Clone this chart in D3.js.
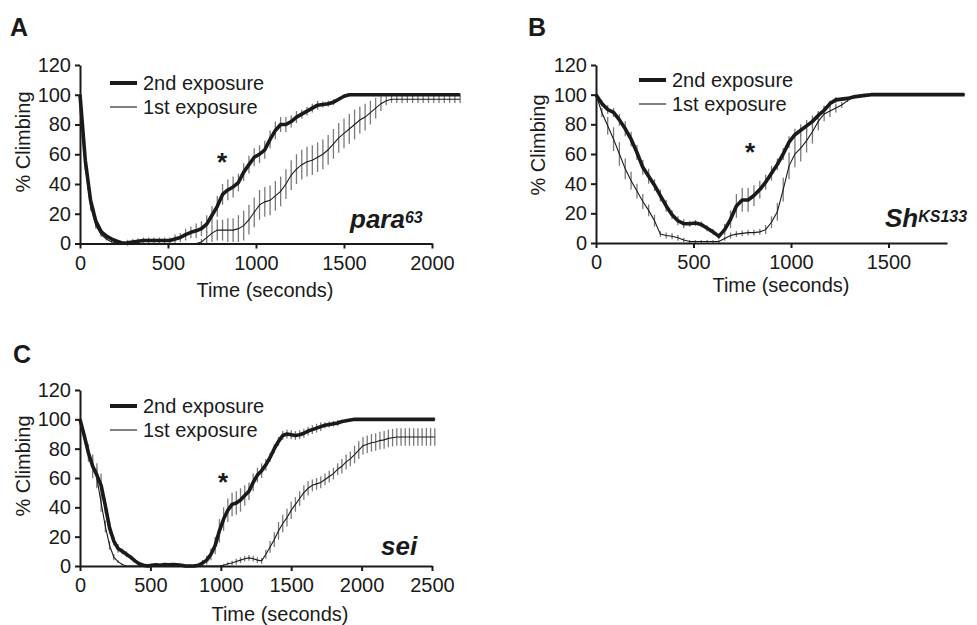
<!DOCTYPE html>
<html>

<head>
    <meta charset="utf-8">
    <style>
        body { margin: 0; background: #fff; }
        svg { display: block; font-family: "Liberation Sans", Arial, Helvetica, sans-serif; }
        .axis path, .axis line { stroke: #1a1a1a; stroke-width: 2px; }
        .axis text { font-size: 20px; fill: #1a1a1a; font-family: "Liberation Sans", Arial, sans-serif; }
        .err { stroke: #7a7a7a; stroke-width: 1.3px; }
        .first { fill: none; stroke: #1a1a1a; stroke-width: 1.1px; }
        .second { fill: none; stroke: #1a1a1a; stroke-width: 3.6px; stroke-linejoin: round; }
        .label { font-size: 20px; fill: #1a1a1a; }
    </style>
</head>

<body>
    <script src="https://d3js.org/d3.v7.min.js"></script>
    <script>
        // samples are every 30 s, starting at t = 0
        var timeStep = 30;

        var yTicks = [0, 20, 40, 60, 80, 100, 120];
        var xTicksA = [0, 500, 1000, 1500, 2000];
        var xTicksB = [0, 500, 1000, 1500];
        var xTicksC = [0, 500, 1000, 1500, 2000, 2500];

        var seriesNames = ["2nd exposure", "1st exposure"];

        // A: para63
        var paraSecond = [100, 56, 29, 15, 8, 5, 3, 1.5, 0.3,
            0.5, 1, 1.5, 2, 2, 2, 2, 2, 2,
            3, 4, 6, 7.5, 8.5, 10, 13, 19, 25, 33,
            36, 38, 41, 48, 53, 58, 60, 63, 70, 76,
            80, 80, 82, 85, 87, 89, 91, 93, 93.5, 94,
            95, 97, 99, 100,
            100, 100, 100, 100, 100, 100, 100, 100, 100, 100,
            100, 100, 100, 100, 100, 100, 100, 100, 100, 100, 100];
        var paraSecondErr = [0, 3, 3, 2, 2, 1.5, 1, 1, 1,
            2, 2, 2, 2, 2, 2, 2, 2, 2,
            3, 3, 4, 4, 5, 5, 6, 6, 7, 7,
            7, 7, 6, 6, 6, 6, 6, 6, 6, 6,
            5, 5, 4, 4, 3, 3, 3, 3, 2, 2,
            2, 1, 1, 0.5,
            0.5, 0.5, 0.5, 0.5, 0.5, 0.5, 0.5, 0.5, 0.5, 0.5,
            0.5, 0.5, 0.5, 0.5, 0.5, 0.5, 0.5, 0.5, 0.5, 0.5, 0.5];
        var paraFirst = [100, 52, 25, 12, 6, 3, 1, 0.5,
            0, 0, 0, 0, 0, 0, 0, 0, 0, 0, 0, 0, 0, 0, 0,
            1, 4, 7, 9, 9, 9, 9, 10, 12, 16,
            21, 26, 28, 29, 32, 35, 40, 46, 50, 53,
            55, 56, 58, 60, 63, 67, 71, 74, 77, 80,
            83, 85, 88, 91, 94, 96, 97,
            97, 97, 97, 97, 97, 97, 97, 97, 97, 97, 97, 97, 97];
        var paraFirstErr = [0, 3, 3, 2, 1.5, 1, 0.5, 0.5,
            0, 0, 0, 0, 0, 0, 0, 0, 0, 0, 0, 0, 0, 0, 0,
            2, 4, 6, 7, 7, 8, 8, 9, 10, 10,
            10, 10, 10, 10, 10, 10, 10, 10, 10, 10,
            10, 10, 10, 10, 10, 10, 10, 10, 10, 10,
            9, 9, 8, 7, 5, 3, 2.5,
            2.5, 2.5, 2.5, 2.5, 2.5, 2.5, 2.5, 2.5, 2.5, 2.5, 2.5, 2.5, 2.5];

        // B: ShKS133
        var shSecond = [100, 94, 90, 88, 83, 77, 70, 61, 51, 45,
            39, 32, 25, 19, 15, 13, 13, 13.5, 12.5, 10,
            7.5, 4.5, 9, 16, 25, 29, 29, 32, 36, 41,
            47, 53, 60, 68, 73, 76, 79, 82, 86, 89.5,
            94, 96.5, 97, 97.5, 98.5, 99, 99.5, 100,
            100, 100, 100, 100, 100, 100, 100, 100, 100, 100, 100, 100, 100, 100, 100, 100];
        var shSecondErr = [0, 2, 3, 3, 4, 5, 5, 5, 5, 5,
            4, 4, 4, 3, 3, 3, 2, 2, 2, 2,
            2, 2, 4, 6, 8, 8, 8, 7, 6, 5,
            5, 4, 4, 4, 4, 4, 4, 4, 3, 3,
            2, 2, 1, 1, 0.5, 0.5, 0.5, 0.3,
            0.3, 0.3, 0.3, 0.3, 0.3, 0.3, 0.3, 0.3, 0.3, 0.3, 0.3, 0.3, 0.3, 0.3, 0.3, 0.3];
        var shFirst = [100, 88, 79, 70, 60, 50, 42, 35, 28, 22,
            15, 6, 5, 4.5, 3.5, 2, 1, 1, 1, 1,
            1, 1, 3, 5, 6, 6.5, 7, 7, 7.5, 9,
            14, 21, 36, 52, 60, 64, 69, 75, 82, 87,
            89, 91, 93, 96, 98, 99, 100,
            100, 100, 100, 100, 100, 100, 100, 100, 100, 100, 100, 100, 100, 100, 100, 100, 100];
        var shFirstErr = [0, 3, 6, 8, 8, 7, 6, 5, 5, 4,
            4, 2, 2, 2, 2, 1.5, 1, 1, 1, 1,
            1, 1, 1.5, 2, 2, 2, 2, 2, 2, 3,
            4, 6, 8, 9, 9, 9, 8, 8, 6, 5,
            4, 3, 2, 1, 1, 0.5, 0.3,
            0.3, 0.3, 0.3, 0.3, 0.3, 0.3, 0.3, 0.3, 0.3, 0.3, 0.3, 0.3, 0.3, 0.3, 0.3, 0.3, 0.3];

        // C: sei
        var seiSecond = [100, 89, 77, 68, 62, 55, 41, 26, 17, 12,
            10, 8, 6, 3.5, 1.5, 0.5, 0, 0.5, 0.8, 0.5,
            1, 0.8, 1, 0.8, 0.5, 0, 0, 0, 0.5, 2,
            4, 8, 14, 24, 32, 38, 42, 43, 45, 48,
            51, 57, 62, 65, 69, 74, 80, 85, 89, 90,
            89.5, 89, 89.5, 90.5, 92, 93, 94, 95, 96, 96.5,
            97, 97.5, 98.5, 99, 99.5, 100,
            100, 100, 100, 100, 100, 100, 100, 100, 100, 100,
            100, 100, 100, 100, 100, 100, 100, 100, 100];
        var seiSecondErr = [0, 3, 6, 8, 8, 8, 5, 4, 3, 3,
            2, 2, 1.5, 1, 1, 1, 1, 1, 1, 1,
            1, 1, 1, 1, 1, 1, 1, 1, 1, 2,
            3, 4, 6, 8, 8, 8, 8, 8, 8, 7,
            6, 6, 5, 5, 4, 3, 3, 3, 3, 3,
            3, 3, 3, 3, 3, 3, 3, 3, 2, 2,
            2, 2, 1, 1, 1, 0.5,
            0.5, 0.5, 0.5, 0.5, 0.5, 0.5, 0.5, 0.5, 0.5, 0.5,
            0.5, 0.5, 0.5, 0.5, 0.5, 0.5, 0.5, 0.5, 0.5];
        var seiFirst = [100, 89, 77, 68, 60, 43, 27, 14, 6, 3,
            1, 0, 0, 0, 0, 0, 0, 0, 0, 0,
            0, 0, 0, 0, 0, 0, 0, 0, 0, 0,
            0, 0, 0, 0, 0.5, 1.5, 2, 3, 4, 5,
            5.5, 5, 4, 3.5, 8, 13, 18, 24, 29, 33,
            38, 42, 46, 50, 53, 55, 56, 57, 59, 61,
            63, 66, 68, 71, 73, 76, 79, 82, 83, 84,
            84.5, 85.5, 86, 87, 87.5, 88, 88, 88, 88, 88,
            88, 88, 88, 88, 88];
        var seiFirstErr = [0, 2, 3, 5, 7, 6, 4, 3, 2, 1,
            0.5, 0, 0, 0, 0, 0, 0, 0, 0, 0,
            0, 0, 0, 0, 0, 0, 0, 0, 0, 0,
            0, 0, 0, 0, 1, 1, 1.5, 2, 2, 2,
            2, 2, 2, 2, 3, 4, 5, 6, 6, 6,
            6, 5, 5, 5, 5, 4, 4, 4, 4, 4,
            4, 4, 5, 5, 5, 6, 6, 6, 6, 6,
            6, 6, 6, 6, 6, 6, 6, 6, 6, 6,
            6, 6, 6, 6, 6];

        var svg = d3.select("body").append("svg")
            .attr("width", 977)
            .attr("height", 625);

        // panel layout (pixel positions)
        var panels = [
            {
                letter: "A", gene: "para", sup: "63", xMax: 2000, xTicks: xTicksA,
                left: 80, right: 432, top: 65, bottom: 243.5,
                letterPos: [10, 36], legendPos: [110, 83], starPos: [222, 157],
                genePos: [350, 228], xLabelPos: [265, 297], yLabelPos: [29.5, 142],
                second: paraSecond, secondErr: paraSecondErr, first: paraFirst, firstErr: paraFirstErr
            },
            {
                letter: "B", gene: "Sh", sup: "KS133", xMax: 1800, xTicks: xTicksB,
                left: 596, right: 947, top: 65, bottom: 243,
                letterPos: [528, 36], legendPos: [639, 80], starPos: [750, 147],
                genePos: [885, 227], xLabelPos: [781, 292], yLabelPos: [544.5, 145],
                second: shSecond, secondErr: shSecondErr, first: shFirst, firstErr: shFirstErr
            },
            {
                letter: "C", gene: "sei", sup: "", xMax: 2500, xTicks: xTicksC,
                left: 80, right: 432, top: 390, bottom: 566,
                letterPos: [13, 363], legendPos: [110, 406], starPos: [223, 477],
                genePos: [381, 555], xLabelPos: [280, 621], yLabelPos: [29.5, 466],
                second: seiSecond, secondErr: seiSecondErr, first: seiFirst, firstErr: seiFirstErr
            }
        ];

        panels.forEach(function (p) {
            var x = d3.scaleLinear().domain([0, p.xMax]).range([p.left, p.right]);
            var y = d3.scaleLinear().domain([0, 120]).range([p.bottom, p.top]);
            var g = svg.append("g");

            // error bars first, lines on top
            [[p.first, p.firstErr], [p.second, p.secondErr]].forEach(function (s) {
                g.append("g").selectAll("line")
                    .data(s[0])
                    .join("line")
                    .attr("class", "err")
                    .attr("x1", function (d, i) { return x(i * timeStep); })
                    .attr("x2", function (d, i) { return x(i * timeStep); })
                    .attr("y1", function (d, i) { return y(d - s[1][i]); })
                    .attr("y2", function (d, i) { return y(d + s[1][i]); });
            });

            var line = d3.line()
                .x(function (d, i) { return x(i * timeStep); })
                .y(function (d) { return y(d); });

            g.append("path").datum(p.first).attr("class", "first").attr("d", line);
            g.append("path").datum(p.second).attr("class", "second").attr("d", line);

            // axes
            g.append("g")
                .attr("class", "axis")
                .attr("transform", "translate(" + p.left + ",0)")
                .call(d3.axisLeft(y).tickValues(yTicks).tickSize(5).tickSizeOuter(0).tickPadding(4));
            g.append("g")
                .attr("class", "axis")
                .attr("transform", "translate(0," + p.bottom + ")")
                .call(d3.axisBottom(x).tickValues(p.xTicks).tickFormat(d3.format("d"))
                    .tickSize(5).tickSizeOuter(0).tickPadding(7));

            // axis titles
            g.append("text")
                .attr("class", "label")
                .attr("x", p.xLabelPos[0])
                .attr("y", p.xLabelPos[1])
                .attr("text-anchor", "middle")
                .text("Time (seconds)");
            g.append("text")
                .attr("class", "label")
                .attr("transform", "translate(" + p.yLabelPos[0] + "," + p.yLabelPos[1] + ") rotate(-90)")
                .attr("text-anchor", "middle")
                .text("% Climbing");

            // panel letter
            g.append("text")
                .attr("x", p.letterPos[0])
                .attr("y", p.letterPos[1])
                .style("font-size", "25px")
                .style("font-weight", "bold")
                .attr("fill", "#1a1a1a")
                .text(p.letter);

            // legend
            var lx = p.legendPos[0], ly = p.legendPos[1];
            seriesNames.forEach(function (name, i) {
                g.append("line")
                    .attr("x1", lx).attr("x2", lx + 27)
                    .attr("y1", ly + i * 24).attr("y2", ly + i * 24)
                    .attr("stroke", "#1a1a1a")
                    .attr("stroke-width", i === 0 ? 4 : 1.1);
                g.append("text")
                    .attr("class", "label")
                    .attr("x", lx + 33)
                    .attr("y", ly + i * 24 + 7)
                    .text(name);
            });

            // significance star
            g.append("text")
                .attr("x", p.starPos[0])
                .attr("y", p.starPos[1] + 14)
                .attr("text-anchor", "middle")
                .style("font-size", "26px")
                .style("font-weight", "bold")
                .attr("fill", "#1a1a1a")
                .text("*");

            // genotype label
            var gt = g.append("text")
                .attr("x", p.genePos[0])
                .attr("y", p.genePos[1])
                .style("font-size", "26px")
                .style("font-weight", "bold")
                .style("font-style", "italic")
                .attr("fill", "#1a1a1a")
                .text(p.gene);
            if (p.sup) {
                gt.append("tspan")
                    .attr("dy", -5)
                    .style("font-size", "16px")
                    .text(p.sup);
            }
        });
    </script>
</body>

</html>
